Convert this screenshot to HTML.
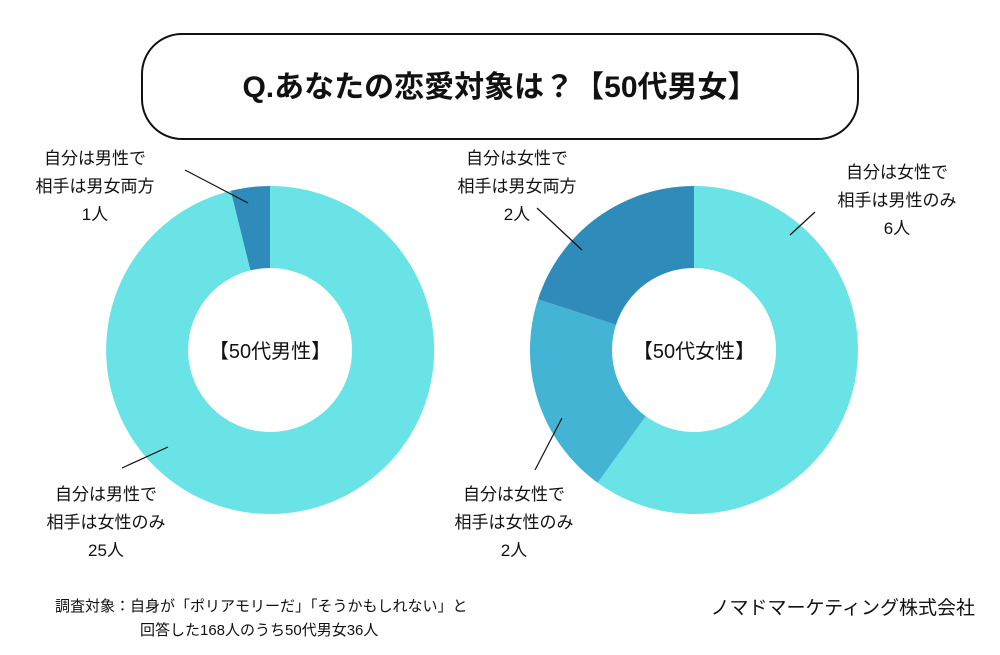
<!DOCTYPE html>
<html><head><meta charset="utf-8"><style>
body{margin:0;background:#fff;}
svg text{font-family:"Liberation Sans","Noto Sans CJK JP",sans-serif;fill:#111;}
</style></head><body>
<svg width="1000" height="650" viewBox="0 0 1000 650" xmlns="http://www.w3.org/2000/svg">
<rect width="1000" height="650" fill="#fff"/>
<rect x="142" y="34" width="716" height="105" rx="40" fill="#fff" stroke="#111" stroke-width="2"/>
<text x="500" y="97" font-size="30" font-weight="bold" text-anchor="middle">Q.あなたの恋愛対象は？【50代男女】</text>

<path d="M270,186 A164,164 0 1 1 230.75,190.8 L250.38,270.4 A82,82 0 1 0 270,268 Z" fill="#6ae3e6"/>
<path d="M230.75,190.8 A164,164 0 0 1 270,186 L270,268 A82,82 0 0 0 250.38,270.4 Z" fill="#2e8bba"/>
<text x="270" y="358" font-size="20" text-anchor="middle">【50代男性】</text>

<path d="M694,186 A164,164 0 1 1 597.6,482.7 L645.8,416.3 A82,82 0 1 0 694,268 Z" fill="#6ae3e6"/>
<path d="M597.6,482.7 A164,164 0 0 1 538,299.3 L616,324.7 A82,82 0 0 0 645.8,416.3 Z" fill="#43b4d4"/>
<path d="M538,299.3 A164,164 0 0 1 694,186 L694,268 A82,82 0 0 0 616,324.7 Z" fill="#2e8bba"/>
<text x="694" y="358" font-size="20" text-anchor="middle">【50代女性】</text>

<g stroke="#111" stroke-width="1.2">
<line x1="185" y1="170" x2="248" y2="203"/>
<line x1="122" y1="468" x2="168" y2="447"/>
<line x1="537" y1="208" x2="582" y2="250"/>
<line x1="790" y1="235" x2="815" y2="212"/>
<line x1="535" y1="470" x2="562" y2="418"/>
</g>
<g font-size="17" text-anchor="middle">
<text x="95" y="164">自分は男性で</text><text x="95" y="192">相手は男女両方</text><text x="95" y="220">1人</text>
<text x="106" y="500">自分は男性で</text><text x="106" y="528">相手は女性のみ</text><text x="106" y="556">25人</text>
<text x="517" y="164">自分は女性で</text><text x="517" y="192">相手は男女両方</text><text x="517" y="220">2人</text>
<text x="897" y="178">自分は女性で</text><text x="897" y="206">相手は男性のみ</text><text x="897" y="234">6人</text>
<text x="514" y="500">自分は女性で</text><text x="514" y="528">相手は女性のみ</text><text x="514" y="556">2人</text>
</g>
<text x="55" y="611" font-size="15">調査対象：自身が「ポリアモリーだ」「そうかもしれない」と</text>
<text x="140" y="635" font-size="15">回答した168人のうち50代男女36人</text>
<text x="975" y="614" font-size="19" text-anchor="end">ノマドマーケティング株式会社</text>
</svg>
</body></html>
